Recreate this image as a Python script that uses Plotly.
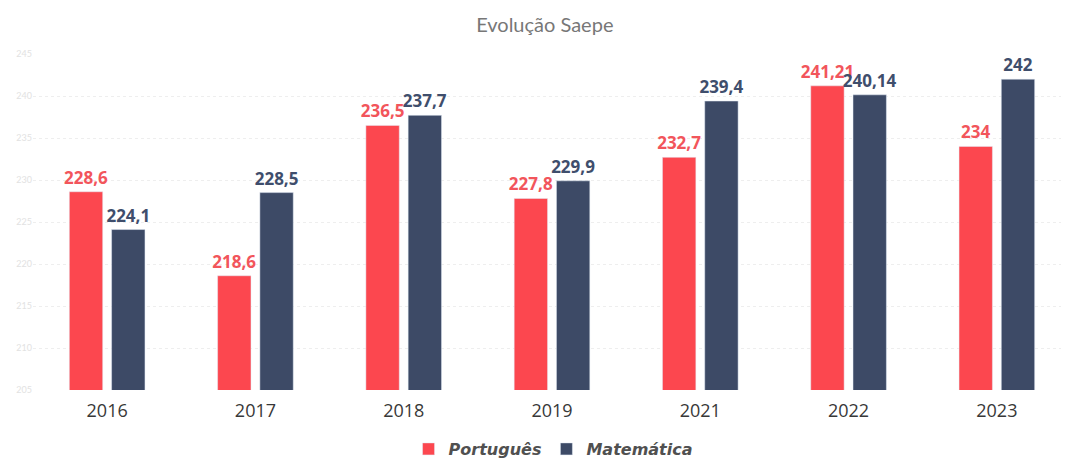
import plotly.graph_objects as go

anos = ["2016", "2017", "2018", "2019", "2021", "2022", "2023"]
portugues = [228.6, 218.6, 236.5, 227.8, 232.7, 241.21, 234]
matematica = [224.1, 228.5, 237.7, 229.9, 239.4, 240.14, 242]
port_labels = ["228,6", "218,6", "236,5", "227,8", "232,7", "241,21", "234"]
mat_labels = ["224,1", "228,5", "237,7", "229,9", "239,4", "240,14", "242"]
y_ticks = [205, 210, 215, 220, 225, 230, 235, 240, 245]

RED = "#FC474F"
NAVY = "#3D4A66"

fig = go.Figure()
fig.add_trace(go.Bar(
    x=anos, y=portugues, name="Português", marker_color=RED,
    text=port_labels, textposition="outside", cliponaxis=False, constraintext="none",
    textfont=dict(color="#F2555B", size=17, family="Open Sans", weight="bold"),
))
fig.add_trace(go.Bar(
    x=anos, y=matematica, name="Matemática", marker_color=NAVY,
    text=mat_labels, textposition="outside", cliponaxis=False, constraintext="none",
    textfont=dict(color="#3F4E6C", size=17, family="Open Sans", weight="bold"),
))

fig.update_layout(
    width=1063, height=458,
    paper_bgcolor="white", plot_bgcolor="white",
    margin=dict(l=25, r=0, t=46, b=68),
    barmode="group", bargap=0.43, bargroupgap=0.21,
    title=dict(text="Evolução Saepe", x=0.505, xanchor="center", y=0.963, yanchor="middle",
               font=dict(family="Lato", size=20, color="#777777")),
    legend=dict(orientation="h", x=0.501, xanchor="center", y=-0.125, yanchor="top",
                font=dict(family="DejaVu Sans", size=16, color="#505050", style="italic", weight="bold"),
                itemwidth=30, traceorder="normal"),
    xaxis=dict(showgrid=False, showline=False, ticks="", automargin=False, ticklabelstandoff=8,
               tickfont=dict(family="Open Sans", size=18, color="#383838")),
    yaxis=dict(range=[205, 245], tickvals=y_ticks, showgrid=True, gridcolor="#EEEEEE",
               griddash="dot", zeroline=False, showline=False, automargin=False,
               tickfont=dict(family="Lato", size=9, color="#E2E2E2")),
)

fig.write_html("out.html")
